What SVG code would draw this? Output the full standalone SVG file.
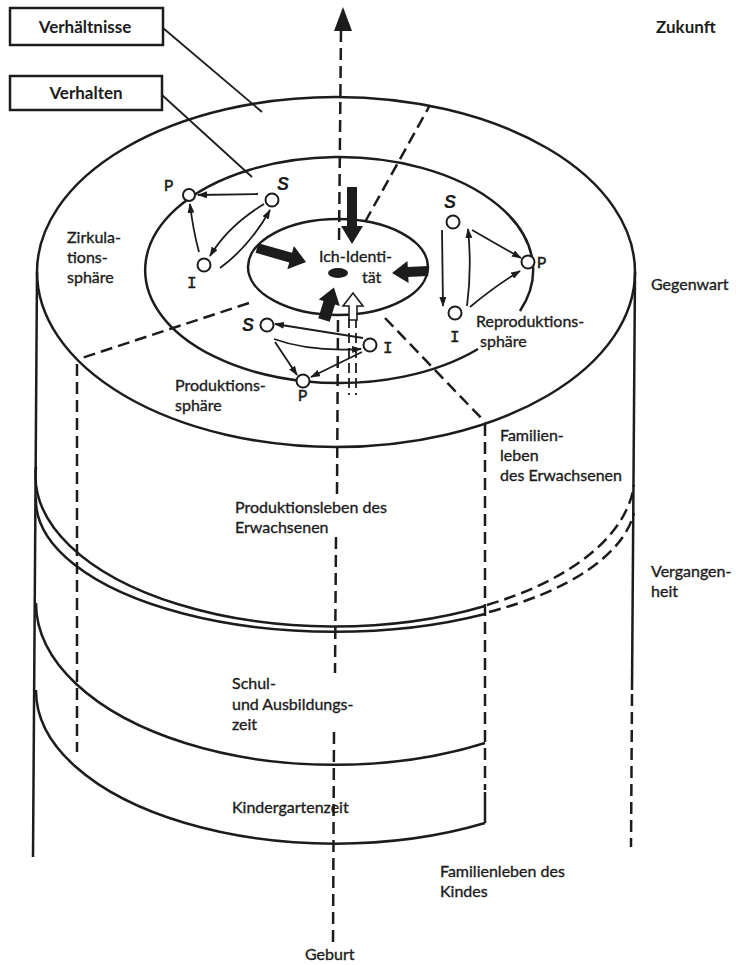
<svg xmlns="http://www.w3.org/2000/svg" width="736" height="965" viewBox="0 0 736 965">
<style>
.ln{fill:none;stroke:#1c1c1c;stroke-width:2.5}
.dl{fill:none;stroke:#1c1c1c;stroke-width:2.5;stroke-dasharray:12 6}
.th{fill:none;stroke:#1c1c1c;stroke-width:1.8}
.ar{fill:none;stroke:#1c1c1c;stroke-width:1.8;marker-end:url(#ah)}
.nd{fill:#fff;stroke:#1c1c1c;stroke-width:2}
.big{fill:#1c1c1c;stroke:none}
.t{font-family:Lato,"Liberation Sans",sans-serif;font-size:16px;fill:#1c1c1c;stroke:#1c1c1c;stroke-width:0.35}
.tb{font-family:Lato,"Liberation Sans",sans-serif;font-size:17px;font-weight:bold;fill:#1c1c1c}
.pi{font-family:"Liberation Mono",monospace;font-size:16px;fill:#1c1c1c;stroke:#1c1c1c;stroke-width:0.5}
.s{font-family:"Liberation Sans",sans-serif;font-size:18px;font-weight:bold;font-style:italic;fill:#1c1c1c}
</style>
<defs>
<marker id="ah" viewBox="0 0 10 7" refX="9" refY="3.5" markerWidth="10" markerHeight="7" markerUnits="userSpaceOnUse" orient="auto"><path d="M0,0 L10,3.5 L0,7 z" fill="#1c1c1c"/></marker>
</defs>
<rect width="736" height="965" fill="#fff"/>

<g id="cylinder">
<ellipse class="ln" cx="336" cy="272" rx="299" ry="175"/>
<path class="ln" d="M520,311 A194,113 0 1 0 478,349"/>
<ellipse class="ln" cx="338" cy="267" rx="90" ry="48"/>
<path class="ln" d="M37,272 L33,857"/>
<path class="ln" d="M635,272 L632,690"/>
<path class="dl" d="M632,694 L631,847"/>
<path class="ln" d="M36,467 A299,151 0 0 0 485,606"/>
<path class="dl" d="M487,605 A299,151 0 0 0 634,485"/>
<path class="ln" d="M36,497 A299,132 0 0 0 485,614"/>
<path class="dl" d="M489,612 A299,132 0 0 0 634,513"/>
<path class="ln" d="M36,603 A299,162 0 0 0 485,743"/>
<path class="ln" d="M36,690 A299,153 0 0 0 485,823"/>
</g>

<g id="sectors">
<path class="dl" d="M365,222 L430,105"/>
<path class="dl" d="M249,303 L82,358"/>
<path class="dl" d="M77,364 L77,752"/>
<path class="dl" d="M385,318 L485,422"/>
<path class="dl" d="M485,424 L485,790"/>
<path class="ln" d="M485,792 L485,823"/>
</g>

<g id="time-axis">
<path class="dl" d="M341,30 L339,243"/>
<path class="dl" d="M338,320 L337,495"/>
<path class="dl" d="M336,537 L335,673"/>
<path class="dl" d="M334,732 L333,947"/>
<path class="big" d="M343,7 L352,31 L334,31 z"/>
</g>

<g id="legend">
<rect x="10" y="8" width="153" height="37" fill="#fff" stroke="#1c1c1c" stroke-width="2.5"/>
<text class="tb" x="85" y="33" text-anchor="middle">Verhältnisse</text>
<rect x="10" y="76" width="152" height="34" fill="#fff" stroke="#1c1c1c" stroke-width="2.5"/>
<text class="tb" x="86" y="99" text-anchor="middle">Verhalten</text>
<path class="th" d="M163,28 L262,112"/>
<path class="th" d="M162,95 L252,177"/>
</g>

<g id="connectors">
<path class="ar" d="M258,194 L198,195"/>
<path class="ar" d="M199,252 Q193,230 190,204"/>
<path class="ar" d="M264,204 Q228,226 210,256"/>
<path class="ar" d="M220,268 Q250,246 270,210"/>
<path class="ar" d="M442,230 L443,306"/>
<path class="ar" d="M467,306 Q472,268 468,229"/>
<path class="ar" d="M472,230 L521,258"/>
<path class="ar" d="M470,307 Q495,286 520,271"/>
<path class="ar" d="M363,338 L275,324"/>
<path class="ar" d="M274,339 Q310,352 361,349"/>
<path class="ar" d="M275,342 L297,375"/>
<path class="ar" d="M362,352 L311,377"/>
<path class="th" d="M349,318 L349,395" stroke-dasharray="10 5"/>
<path class="th" d="M356,318 L356,395" stroke-dasharray="10 5"/>
<polygon class="big" points="347,187 357,187 357,226 363,226 352,244 341,226 347,226"/>
<polygon class="big" transform="translate(257,248) rotate(16)" points="0,-5 35,-5 35,-12 51,0 35,12 35,5 0,5"/>
<polygon class="big" transform="translate(428,271) rotate(177)" points="0,-5 20,-5 20,-11 36,0 20,11 20,5 0,5"/>
<polygon class="big" transform="translate(324,320) rotate(-73)" points="0,-6 18,-6 18,-11 34,0 18,11 18,6 0,6"/>
<polygon transform="translate(353,320) rotate(-90)" points="0,-4 14,-4 14,-10 27,0 14,10 14,4 0,4" fill="#fff" stroke="#1c1c1c" stroke-width="1.6"/>
</g>

<g id="ich-identitaet">
<ellipse cx="338" cy="273" rx="10" ry="5" fill="#1c1c1c"/>
<text class="t" x="319" y="262">Ich-Identi-</text>
<text class="t" x="362" y="283">tät</text>
</g>

<g id="zirk-P"><circle class="nd" cx="189" cy="195" r="6"/><text class="pi" x="164" y="191">P</text></g>
<g id="zirk-S"><circle class="nd" cx="272" cy="200" r="6.5"/><text class="s" x="277" y="190">S</text></g>
<g id="zirk-I"><circle class="nd" cx="204" cy="265" r="6.5"/><text class="pi" x="187" y="288">I</text></g>

<g id="repro-S"><circle class="nd" cx="453" cy="222" r="6.5"/><text class="s" x="444" y="208">S</text></g>
<g id="repro-P"><circle class="nd" cx="528" cy="262" r="6.5"/><text class="pi" x="537" y="268">P</text></g>
<g id="repro-I"><circle class="nd" cx="455" cy="313" r="6.5"/><text class="pi" x="450" y="342">I</text></g>

<g id="prod-S"><circle class="nd" cx="267" cy="325" r="6.5"/><text class="s" x="242" y="331">S</text></g>
<g id="prod-I"><circle class="nd" cx="370" cy="345" r="6.5"/><text class="pi" x="383" y="353">I</text></g>
<g id="prod-P"><circle class="nd" cx="303" cy="381" r="6.5"/><text class="pi" x="298" y="401">P</text></g>

<g id="labels">
<text class="tb" x="656" y="33">Zukunft</text>
<text class="t" x="651" y="290">Gegenwart</text>
<text class="t" x="651" y="577">Vergangen-</text>
<text class="t" x="651" y="597">heit</text>
<text class="t" x="67" y="243">Zirkula-</text>
<text class="t" x="67" y="263">tions-</text>
<text class="t" x="67" y="283">sphäre</text>
<text class="t" x="175" y="391">Produktions-</text>
<text class="t" x="175" y="411">sphäre</text>
<text class="t" x="476" y="327">Reproduktions-</text>
<text class="t" x="480" y="347">sphäre</text>
<text class="t" x="500" y="441">Familien-</text>
<text class="t" x="500" y="461">leben</text>
<text class="t" x="500" y="481">des Erwachsenen</text>
<text class="t" x="235" y="513">Produktionsleben des</text>
<text class="t" x="235" y="533">Erwachsenen</text>
<text class="t" x="232" y="689">Schul-</text>
<text class="t" x="232" y="710">und Ausbildungs-</text>
<text class="t" x="232" y="730">zeit</text>
<text class="t" x="232" y="813">Kindergartenzeit</text>
<text class="t" x="440" y="877">Familienleben des</text>
<text class="t" x="440" y="897">Kindes</text>
<text class="t" x="305" y="960">Geburt</text>
</g>
</svg>
